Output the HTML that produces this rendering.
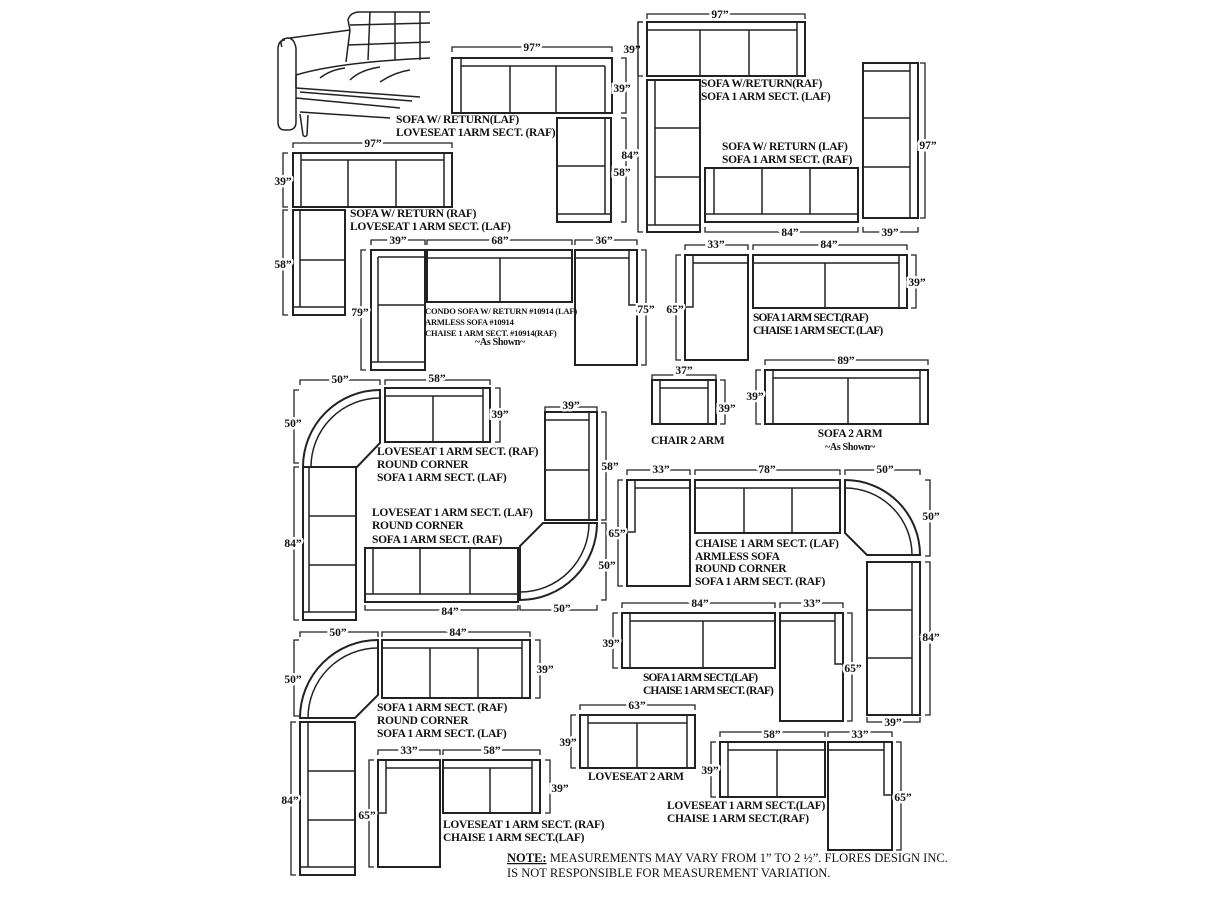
<!DOCTYPE html>
<html><head><meta charset="utf-8"><style>
html,body{margin:0;padding:0;background:#fff}
svg{display:block}
.o{fill:#fff;stroke:#222;stroke-width:2}
.i{fill:none;stroke:#222;stroke-width:1.5}
.d{fill:none;stroke:#222;stroke-width:1.3}
text{font-family:"Liberation Serif",serif;font-weight:bold;fill:#111}
.t{font-size:11.5px;letter-spacing:-0.3px}
.s{font-size:8.5px;letter-spacing:-0.2px}
.l{font-size:11.5px;text-anchor:middle;stroke:#fff;stroke-width:5;paint-order:stroke}
.n{font-size:12.5px;font-weight:normal}
</style></head><body>
<svg width="1220" height="900" viewBox="0 0 1220 900">
<!-- illustration -->
<g class="i" stroke-width="1.3">
<path d="M282 47 Q278 38 290 38 L350 30 M288 38 Q294 38 296 48 L296 122 Q296 130 288 130 L285 130 Q278 130 278 122 L278 50 Q278 40 285 40"/>
<path d="M350 30 L348 20 Q350 12 360 12 L430 12 M350 30 L346 62 M296 75 Q340 62 430 58 M296 75 L296 88 M296 88 L420 97 M300 92 L412 101 M296 98 L400 108 M300 112 L390 118 M300 114 L303 135 Q305 138 307 135 L308 115"/>
<path d="M370 12 L368 60 M395 12 L395 60 M420 12 L420 60 M350 25 L430 23 M348 45 L430 42 M320 78 Q330 70 345 68 M350 80 Q360 70 380 67 M380 82 Q395 72 410 70"/>
</g>
<!-- 1: sofa 97 + loveseat -->
<rect class="o" x="452" y="58" width="160" height="55"/>
<path class="i" d="M461 58V113M461 66H605M605 66V113M510 66V113M556 66V113"/>
<path class="d" d="M452 52V47H612V52"/><text class="l" x="532" y="51">97”</text>
<path class="d" d="M621 58H626V113H621"/><text class="l" x="622" y="92">39”</text>
<rect class="o" x="557" y="118" width="54" height="104"/>
<path class="i" d="M605 118V214M557 214H611M557 166H605"/>
<path class="d" d="M621 118H626V222H621"/><text class="l" x="622" y="176">58”</text>
<text class="t" x="396" y="123">SOFA W/ RETURN(LAF)</text>
<text class="t" x="396" y="136">LOVESEAT 1ARM SECT. (RAF)</text>
<!-- 2 top right -->
<rect class="o" x="647" y="22" width="158" height="54"/>
<path class="i" d="M647 30H797M797 22V76M700 30V76M749 30V76"/>
<path class="d" d="M647 19V14H805V19"/><text class="l" x="720" y="18">97”</text>
<path class="d" d="M643 22H638V76H643"/><text class="l" x="632" y="53">39”</text>
<rect class="o" x="647" y="80" width="53" height="152"/>
<path class="i" d="M655 80V225M647 225H700M655 128H700M655 177H700"/>
<path class="d" d="M643 22H638V232H643"/><text class="l" x="630" y="159">84”</text>
<text class="t" x="701" y="87">SOFA W/RETURN(RAF)</text>
<text class="t" x="701" y="100">SOFA 1 ARM SECT. (LAF)</text>
<!-- 3 -->
<text class="t" x="722" y="150">SOFA W/ RETURN (LAF)</text>
<text class="t" x="722" y="163">SOFA 1 ARM SECT. (RAF)</text>
<rect class="o" x="705" y="168" width="153" height="54"/>
<path class="i" d="M705 214H858M714 168V214M762 168V214M810 168V214"/>
<path class="d" d="M705 227V232H858V227"/><text class="l" x="790" y="236">84”</text>
<rect class="o" x="863" y="63" width="55" height="155"/>
<path class="i" d="M863 71H910M910 63V218M863 118H910M863 167H910"/>
<path class="d" d="M920 63H925V218H920"/><text class="l" x="928" y="149">97”</text>
<path class="d" d="M863 227V232H918V227"/><text class="l" x="890" y="236">39”</text>
<!-- 4 -->
<rect class="o" x="293" y="153" width="159" height="54"/>
<path class="i" d="M301 160H444M301 153V207M444 153V207M348 160V207M396 160V207"/>
<path class="d" d="M293 148V143H452V148"/><text class="l" x="373" y="147">97”</text>
<path class="d" d="M288 153H283V207H288"/><text class="l" x="283" y="185">39”</text>
<rect class="o" x="293" y="210" width="52" height="105"/>
<path class="i" d="M300 210V307M293 307H345M300 260H345"/>
<path class="d" d="M288 210H283V315H288"/><text class="l" x="283" y="268">58”</text>
<text class="t" x="350" y="217">SOFA W/ RETURN (RAF)</text>
<text class="t" x="350" y="230">LOVESEAT 1 ARM SECT.  (LAF)</text>
<!-- 5 condo -->
<rect class="o" x="371" y="250" width="54" height="120"/>
<path class="i" d="M378 257H425M378 257V362M371 362H425M378 305H425"/>
<rect class="o" x="427" y="250" width="145" height="52"/>
<path class="i" d="M427 258H572M500 258V302"/>
<rect class="o" x="575" y="250" width="62" height="115"/>
<path class="i" d="M575 258H629M629 250V305H637"/>
<path class="d" d="M371 245V240H425V245M427 245V240H572V245M575 245V240H637V245"/>
<text class="l" x="398" y="244">39”</text><text class="l" x="500" y="244">68”</text><text class="l" x="604" y="244">36”</text>
<path class="d" d="M366 250H361V370H366"/><text class="l" x="360" y="316">79”</text>
<path class="d" d="M641 250H646V365H641"/><text class="l" x="646" y="313">75”</text>
<text class="s" x="425" y="314">CONDO SOFA W/ RETURN #10914 (LAF)</text>
<text class="s" x="425" y="325">ARMLESS SOFA #10914</text>
<text class="s" x="425" y="336">CHAISE 1 ARM SECT. #10914(RAF)</text>
<text class="t" x="500" y="345" text-anchor="middle" style="font-size:10px">~As Shown~</text>
<!-- 6 -->
<rect class="o" x="685" y="255" width="63" height="105"/>
<path class="i" d="M693 263H748M693 255V307H685"/>
<path class="d" d="M685 250V245H748V250"/><text class="l" x="716" y="248">33”</text>
<path class="d" d="M681 255H676V360H681"/><text class="l" x="675" y="313">65”</text>
<rect class="o" x="753" y="255" width="154" height="53"/>
<path class="i" d="M753 263H899M899 255V308M825 263V308"/>
<path class="d" d="M753 250V245H907V250"/><text class="l" x="829" y="248">84”</text>
<path class="d" d="M911 255H916V308H911"/><text class="l" x="917" y="286">39”</text>
<text class="t" x="753" y="321" style="letter-spacing:-0.9px">SOFA 1 ARM SECT.(RAF)</text>
<text class="t" x="753" y="334" style="letter-spacing:-0.9px">CHAISE 1 ARM SECT. (LAF)</text>
<!-- 7 -->
<rect class="o" x="652" y="380" width="64" height="44"/>
<path class="i" d="M660 388H708M660 380V424M708 380V424"/>
<path class="d" d="M652 380V375H716V380"/><text class="l" x="684" y="374">37”</text>
<path class="d" d="M720 380H725V424H720"/><text class="l" x="727" y="412">39”</text>
<text class="t" x="651" y="444">CHAIR 2 ARM</text>
<rect class="o" x="765" y="370" width="163" height="54"/>
<path class="i" d="M773 378H920M773 370V424M920 370V424M848 378V424"/>
<path class="d" d="M765 365V360H928V365"/><text class="l" x="846" y="364">89”</text>
<path class="d" d="M761 370H756V424H761"/><text class="l" x="755" y="400">39”</text>
<text class="t" x="850" y="437" text-anchor="middle">SOFA 2 ARM</text>
<text class="t" x="850" y="450" text-anchor="middle" style="font-size:10px">~As Shown~</text>
<!-- 8 round corner set -->
<path class="o" d="M380 390A77 77 0 0 0 303 467H357L380 443Z"/>
<path class="i" d="M380 398A69 69 0 0 0 311 467"/>
<rect class="o" x="385" y="388" width="105" height="54"/>
<path class="i" d="M385 396H483M483 388V442M433 396V442"/>
<path class="d" d="M300 385V380H380V385M385 385V380H490V385"/>
<text class="l" x="340" y="383">50”</text><text class="l" x="437" y="382">58”</text>
<path class="d" d="M495 388H500V442H495"/><text class="l" x="500" y="418">39”</text>
<path class="d" d="M299 390H294V463H299"/><text class="l" x="293" y="427">50”</text>
<rect class="o" x="303" y="467" width="53" height="153"/>
<path class="i" d="M309 467V612M303 612H356M309 516H356M309 565H356"/>
<path class="d" d="M299 467H294V620H299"/><text class="l" x="293" y="547">84”</text>
<text class="t" x="377" y="455">LOVESEAT 1 ARM SECT. (RAF)</text>
<text class="t" x="377" y="468">ROUND CORNER</text>
<text class="t" x="377" y="481">SOFA 1 ARM SECT. (LAF)</text>
<!-- 9 -->
<text class="t" x="372" y="516">LOVESEAT 1 ARM SECT. (LAF)</text>
<text class="t" x="372" y="529">ROUND CORNER</text>
<text class="t" x="372" y="543">SOFA 1 ARM SECT. (RAF)</text>
<rect class="o" x="365" y="548" width="153" height="54"/>
<path class="i" d="M373 548V594M365 594H518M420 548V594M470 548V594"/>
<path class="d" d="M365 605V610H518V605"/><text class="l" x="450" y="615">84”</text>
<path class="o" d="M597 523A77 77 0 0 1 520 600V546L543 523Z"/>
<path class="i" d="M589 523A69 69 0 0 1 520 592"/>
<path class="d" d="M520 605V610H597V605"/><text class="l" x="562" y="612">50”</text>
<path class="d" d="M601 523H606V600H601"/><text class="l" x="607" y="569">50”</text>
<rect class="o" x="545" y="412" width="52" height="108"/>
<path class="i" d="M589 412V520M545 420H589M545 470H589"/>
<path class="d" d="M545 412V407H597V412"/><text class="l" x="571" y="409">39”</text>
<path class="d" d="M601 412H606V520H601"/><text class="l" x="610" y="470">58”</text>
<!-- 10 -->
<rect class="o" x="627" y="480" width="63" height="106"/>
<path class="i" d="M635 488H690M635 480V532H627"/>
<path class="d" d="M627 475V470H690V475"/><text class="l" x="661" y="473">33”</text>
<path class="d" d="M623 480H618V586H623"/><text class="l" x="617" y="537">65”</text>
<rect class="o" x="695" y="480" width="145" height="53"/>
<path class="i" d="M695 488H840M744 488V533M792 488V533"/>
<path class="d" d="M695 475V470H840V475"/><text class="l" x="767" y="473">78”</text>
<path class="o" d="M845 480A75 75 0 0 1 920 555H867L845 533Z"/>
<path class="i" d="M845 488A67 67 0 0 1 912 555"/>
<path class="d" d="M845 475V470H920V475"/><text class="l" x="885" y="473">50”</text>
<path class="d" d="M925 480H930V556H925"/><text class="l" x="931" y="520">50”</text>
<rect class="o" x="867" y="562" width="53" height="153"/>
<path class="i" d="M912 562V715M867 610H912M867 658H912"/>
<path class="d" d="M925 562H930V715H925"/><text class="l" x="931" y="641">84”</text>
<path class="d" d="M867 717V722H920V717"/><text class="l" x="893" y="726">39”</text>
<text class="t" x="695" y="547">CHAISE 1 ARM SECT. (LAF)</text>
<text class="t" x="695" y="560">ARMLESS SOFA</text>
<text class="t" x="695" y="572">ROUND CORNER</text>
<text class="t" x="695" y="585">SOFA 1 ARM SECT. (RAF)</text>
<!-- 11 -->
<rect class="o" x="622" y="613" width="153" height="55"/>
<path class="i" d="M630 621H775M630 613V668M703 621V668"/>
<path class="d" d="M622 608V603H775V608"/><text class="l" x="700" y="607">84”</text>
<path class="d" d="M618 613H613V668H618"/><text class="l" x="611" y="647">39”</text>
<rect class="o" x="780" y="613" width="63" height="108"/>
<path class="i" d="M780 621H835M835 613V664H843"/>
<path class="d" d="M780 608V603H843V608"/><text class="l" x="812" y="607">33”</text>
<path class="d" d="M847 613H852V721H847"/><text class="l" x="853" y="672">65”</text>
<text class="t" x="643" y="681" style="letter-spacing:-0.9px">SOFA 1 ARM SECT.(LAF)</text>
<text class="t" x="643" y="694" style="letter-spacing:-0.9px">CHAISE 1 ARM SECT. (RAF)</text>
<!-- 12 -->
<path class="o" d="M378 640A78 78 0 0 0 300 718H355L378 695Z"/>
<path class="i" d="M378 648A70 70 0 0 0 308 718"/>
<path class="d" d="M300 637V632H378V637"/><text class="l" x="338" y="636">50”</text>
<path class="d" d="M299 640H294V716H299"/><text class="l" x="293" y="683">50”</text>
<rect class="o" x="382" y="640" width="148" height="58"/>
<path class="i" d="M382 648H522M522 640V698M430 648V698M478 648V698"/>
<path class="d" d="M382 637V632H530V637"/><text class="l" x="458" y="636">84”</text>
<path class="d" d="M535 640H540V698H535"/><text class="l" x="545" y="673">39”</text>
<text class="t" x="377" y="711">SOFA 1 ARM SECT. (RAF)</text>
<text class="t" x="377" y="724">ROUND CORNER</text>
<text class="t" x="377" y="737">SOFA 1 ARM SECT. (LAF)</text>
<rect class="o" x="300" y="722" width="55" height="153"/>
<path class="i" d="M308 722V867M300 867H355M308 771H355M308 820H355"/>
<path class="d" d="M296 722H291V875H296"/><text class="l" x="290" y="804">84”</text>
<!-- 13 -->
<rect class="o" x="378" y="760" width="62" height="107"/>
<path class="i" d="M386 768H440M386 760V813H378"/>
<path class="d" d="M378 755V750H440V755"/><text class="l" x="409" y="754">33”</text>
<path class="d" d="M374 760H369V867H374"/><text class="l" x="367" y="819">65”</text>
<rect class="o" x="443" y="760" width="97" height="53"/>
<path class="i" d="M443 768H532M532 760V813M490 768V813"/>
<path class="d" d="M443 755V750H540V755"/><text class="l" x="492" y="754">58”</text>
<path class="d" d="M545 760H550V813H545"/><text class="l" x="560" y="792">39”</text>
<text class="t" x="443" y="828">LOVESEAT 1 ARM SECT. (RAF)</text>
<text class="t" x="443" y="841">CHAISE 1 ARM SECT.(LAF)</text>
<!-- 14 -->
<rect class="o" x="580" y="715" width="115" height="53"/>
<path class="i" d="M588 723H687M588 715V768M687 715V768M637 723V768"/>
<path class="d" d="M580 710V705H695V710"/><text class="l" x="637" y="709">63”</text>
<path class="d" d="M576 715H571V768H576"/><text class="l" x="568" y="746">39”</text>
<text class="t" x="588" y="780">LOVESEAT 2 ARM</text>
<!-- 15 -->
<rect class="o" x="720" y="742" width="105" height="55"/>
<path class="i" d="M728 750H825M728 742V797M777 750V797"/>
<path class="d" d="M720 737V732H825V737"/><text class="l" x="772" y="738">58”</text>
<path class="d" d="M716 742H711V797H716"/><text class="l" x="710" y="774">39”</text>
<rect class="o" x="828" y="742" width="64" height="108"/>
<path class="i" d="M828 750H884M884 742V795H892"/>
<path class="d" d="M828 737V732H892V737"/><text class="l" x="860" y="738">33”</text>
<path class="d" d="M896 742H901V850H896"/><text class="l" x="903" y="801">65”</text>
<text class="t" x="667" y="809">LOVESEAT 1 ARM SECT.(LAF)</text>
<text class="t" x="667" y="822">CHAISE 1 ARM SECT.(RAF)</text>
<!-- note -->
<text class="n" x="507" y="862"><tspan font-weight="bold" text-decoration="underline">NOTE:</tspan> MEASUREMENTS MAY VARY FROM 1” TO 2 ½”. FLORES DESIGN INC.</text>
<text class="n" x="507" y="877">IS NOT RESPONSIBLE FOR MEASUREMENT VARIATION.</text>
</svg>
</body></html>
